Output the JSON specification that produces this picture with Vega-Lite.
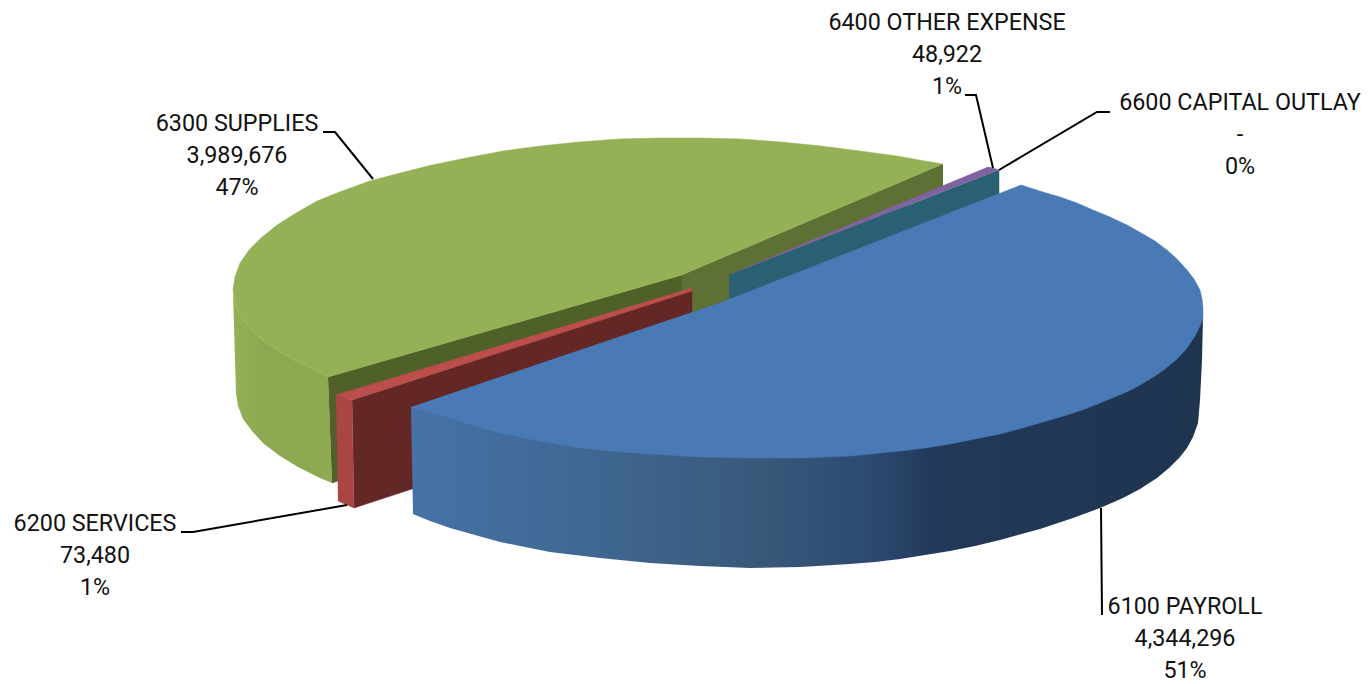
{"$schema":"https://vega.github.io/schema/vega-lite/v6.json","width":1368,"height":684,"autosize":"none","padding":0,"background":"white","view":{"stroke":null},
"datasets":{
"wallGreen":[{"i":1,"x":233,"y":293},{"i":2,"x":235,"y":302},{"i":3,"x":240,"y":315},{"i":4,"x":249,"y":327},{"i":5,"x":261,"y":339},{"i":6,"x":277,"y":350},{"i":7,"x":296,"y":361},{"i":8,"x":317,"y":371},{"i":9,"x":328,"y":377},{"i":10,"x":332,"y":483},{"i":11,"x":320,"y":478},{"i":12,"x":298,"y":467},{"i":13,"x":280,"y":456},{"i":14,"x":264,"y":444},{"i":15,"x":252,"y":431},{"i":16,"x":243,"y":419},{"i":17,"x":238,"y":406},{"i":18,"x":236,"y":393}],
"flat":[
{"part":"olive dark","i":1,"x":328,"y":377},{"part":"olive dark","i":2,"x":682,"y":275},{"part":"olive dark","i":3,"x":682,"y":300},{"part":"olive dark","i":4,"x":338,"y":400},{"part":"olive dark","i":5,"x":338,"y":481},{"part":"olive dark","i":6,"x":332,"y":483},
{"part":"olive","i":1,"x":943,"y":164},{"part":"olive","i":2,"x":682,"y":275},{"part":"olive","i":3,"x":682,"y":320},{"part":"olive","i":4,"x":729,"y":300},{"part":"olive","i":5,"x":943,"y":186},
{"part":"red wall","i":1,"x":352,"y":400},{"part":"red wall","i":2,"x":692,"y":290},{"part":"red wall","i":3,"x":692,"y":314},{"part":"red wall","i":4,"x":412,"y":489},{"part":"red wall","i":5,"x":354,"y":508},
{"part":"red front","i":1,"x":336,"y":395},{"part":"red front","i":2,"x":352,"y":400},{"part":"red front","i":3,"x":354,"y":508},{"part":"red front","i":4,"x":338,"y":501},
{"part":"red top","i":1,"x":336,"y":395},{"part":"red top","i":2,"x":692,"y":288},{"part":"red top","i":3,"x":692,"y":291},{"part":"red top","i":4,"x":352,"y":400},
{"part":"teal","i":1,"x":729,"y":275},{"part":"teal","i":2,"x":999,"y":170},{"part":"teal","i":3,"x":999,"y":194},{"part":"teal","i":4,"x":729,"y":302},
{"part":"purple","i":1,"x":733,"y":273},{"part":"purple","i":2,"x":988,"y":167},{"part":"purple","i":3,"x":993,"y":168},{"part":"purple","i":4,"x":999,"y":170}
],
"topGreen":[{"i":1,"x":943,"y":164},{"i":2,"x":925,"y":161},{"i":3,"x":897,"y":156},{"i":4,"x":860,"y":151},{"i":5,"x":821,"y":146},{"i":6,"x":781,"y":142},{"i":7,"x":741,"y":139},{"i":8,"x":700,"y":138},{"i":9,"x":659,"y":138},{"i":10,"x":619,"y":139},{"i":11,"x":579,"y":142},{"i":12,"x":540,"y":146},{"i":13,"x":503,"y":151},{"i":14,"x":466,"y":158},{"i":15,"x":432,"y":165},{"i":16,"x":400,"y":173},{"i":17,"x":370,"y":181},{"i":18,"x":342,"y":191},{"i":19,"x":317,"y":201},{"i":20,"x":296,"y":213},{"i":21,"x":277,"y":225},{"i":22,"x":261,"y":238},{"i":23,"x":249,"y":250},{"i":24,"x":240,"y":263},{"i":25,"x":235,"y":277},{"i":26,"x":233,"y":290},{"i":27,"x":235,"y":302},{"i":28,"x":240,"y":315},{"i":29,"x":249,"y":327},{"i":30,"x":261,"y":339},{"i":31,"x":277,"y":350},{"i":32,"x":296,"y":361},{"i":33,"x":317,"y":371},{"i":34,"x":328,"y":377},{"i":35,"x":682,"y":275}],
"wallBlue":[{"i":1,"x":1203,"y":318},{"i":2,"x":1202,"y":360},{"i":3,"x":1200,"y":400},{"i":4,"x":1198,"y":423},{"i":5,"x":1193,"y":437},{"i":6,"x":1187,"y":448},{"i":7,"x":1180,"y":457},{"i":8,"x":1169,"y":468},{"i":9,"x":1157,"y":478},{"i":10,"x":1140,"y":489},{"i":11,"x":1123,"y":498},{"i":12,"x":1100,"y":508},{"i":13,"x":1073,"y":518},{"i":14,"x":1040,"y":529},{"i":15,"x":1000,"y":540},{"i":16,"x":975,"y":546},{"i":17,"x":950,"y":551},{"i":18,"x":925,"y":555},{"i":19,"x":900,"y":559},{"i":20,"x":875,"y":562},{"i":21,"x":850,"y":564},{"i":22,"x":800,"y":567},{"i":23,"x":750,"y":568},{"i":24,"x":700,"y":566},{"i":25,"x":650,"y":563},{"i":26,"x":600,"y":558},{"i":27,"x":575,"y":555},{"i":28,"x":550,"y":552},{"i":29,"x":525,"y":547},{"i":30,"x":500,"y":542},{"i":31,"x":475,"y":535},{"i":32,"x":450,"y":528},{"i":33,"x":430,"y":521},{"i":34,"x":413,"y":514},{"i":35,"x":411,"y":407}],
"topBlue":[{"i":1,"x":725,"y":301},{"i":2,"x":1021,"y":185},{"i":3,"x":1043,"y":192},{"i":4,"x":1060,"y":197},{"i":5,"x":1077,"y":203},{"i":6,"x":1093,"y":210},{"i":7,"x":1110,"y":217},{"i":8,"x":1127,"y":225},{"i":9,"x":1143,"y":234},{"i":10,"x":1155,"y":241},{"i":11,"x":1167,"y":250},{"i":12,"x":1177,"y":259},{"i":13,"x":1187,"y":270},{"i":14,"x":1194,"y":279},{"i":15,"x":1200,"y":290},{"i":16,"x":1202,"y":299},{"i":17,"x":1203,"y":308},{"i":18,"x":1203,"y":318},{"i":19,"x":1200,"y":326},{"i":20,"x":1195,"y":336},{"i":21,"x":1187,"y":348},{"i":22,"x":1177,"y":359},{"i":23,"x":1165,"y":369},{"i":24,"x":1155,"y":376},{"i":25,"x":1145,"y":382},{"i":26,"x":1133,"y":389},{"i":27,"x":1117,"y":396},{"i":28,"x":1100,"y":403},{"i":29,"x":1085,"y":409},{"i":30,"x":1067,"y":415},{"i":31,"x":1050,"y":420},{"i":32,"x":1033,"y":425},{"i":33,"x":1015,"y":430},{"i":34,"x":1000,"y":434},{"i":35,"x":975,"y":439},{"i":36,"x":950,"y":444},{"i":37,"x":925,"y":448},{"i":38,"x":900,"y":451},{"i":39,"x":850,"y":456},{"i":40,"x":800,"y":458},{"i":41,"x":750,"y":458},{"i":42,"x":700,"y":457},{"i":43,"x":650,"y":454},{"i":44,"x":600,"y":450},{"i":45,"x":575,"y":447},{"i":46,"x":550,"y":443},{"i":47,"x":525,"y":438},{"i":48,"x":500,"y":433},{"i":49,"x":475,"y":426},{"i":50,"x":450,"y":418},{"i":51,"x":430,"y":412},{"i":52,"x":411,"y":407}],
"leaders":[
{"account":"6100","i":1,"x":1101,"y":508},{"account":"6100","i":2,"x":1102,"y":615},
{"account":"6200","i":1,"x":181,"y":532},{"account":"6200","i":2,"x":193,"y":532},{"account":"6200","i":3,"x":347,"y":505},
{"account":"6300","i":1,"x":323,"y":132},{"account":"6300","i":2,"x":335,"y":132},{"account":"6300","i":3,"x":373,"y":179},
{"account":"6400","i":1,"x":965,"y":95},{"account":"6400","i":2,"x":976,"y":95},{"account":"6400","i":3,"x":993,"y":168},
{"account":"6600","i":1,"x":1110,"y":112},{"account":"6600","i":2,"x":1097,"y":112},{"account":"6600","i":3,"x":999,"y":170}],
"labels":[
{"label":"6100 PAYROLL\n4,344,296\n51%","x":1185,"y":607},
{"label":"6200 SERVICES\n73,480\n1%","x":95,"y":524},
{"label":"6300 SUPPLIES\n3,989,676\n47%","x":237,"y":124},
{"label":"6400 OTHER EXPENSE\n48,922\n1%","x":947,"y":23},
{"label":"6600 CAPITAL OUTLAY\n-\n0%","x":1240,"y":103}]
},
"encoding":{"x":{"field":"x","type":"quantitative","scale":{"domain":[0,1368]},"axis":null},"y":{"field":"y","type":"quantitative","scale":{"domain":[684,0]},"axis":null}},
"layer":[
{"data":{"name":"wallGreen"},"mark":{"type":"line","filled":true,"strokeWidth":0,"color":{"gradient":"linear","x1":0,"x2":1,"y1":0,"y2":0,"stops":[{"offset":0,"color":"#95B157"},{"offset":0.3,"color":"#8CA850"},{"offset":1,"color":"#8EAA51"}]}},"encoding":{"order":{"field":"i","type":"quantitative"}}},
{"data":{"name":"flat"},"mark":{"type":"line","filled":true,"strokeWidth":0.5},"encoding":{"order":{"field":"i","type":"quantitative"},
"fill":{"field":"part","type":"nominal","legend":null,"scale":{"domain":["olive dark","olive","red wall","red front","red top","teal","purple"],"range":["#4F6029","#5E7033","#632826","#A94543","#BC4F4B","#2A6074","#7F63A1"]}},
"stroke":{"field":"part","type":"nominal","legend":null,"scale":{"domain":["olive dark","olive","red wall","red front","red top","teal","purple"],"range":["#4F6029","#5E7033","#632826","#A94543","#BC4F4B","#2A6074","#7F63A1"]}}}},
{"data":{"name":"topGreen"},"mark":{"type":"line","filled":true,"strokeWidth":0.5,"color":"#94B155","stroke":"#94B155"},"encoding":{"order":{"field":"i","type":"quantitative"}}},
{"data":{"name":"wallBlue"},"mark":{"type":"line","filled":true,"strokeWidth":0,"color":{"gradient":"linear","x1":0,"x2":1,"y1":0,"y2":0,"stops":[{"offset":0,"color":"#4672A8"},{"offset":0.25,"color":"#3F668F"},{"offset":0.45,"color":"#375879"},{"offset":0.58,"color":"#2D4A72"},{"offset":0.66,"color":"#22395A"},{"offset":1,"color":"#1E344F"}]}},"encoding":{"order":{"field":"i","type":"quantitative"}}},
{"data":{"name":"topBlue"},"mark":{"type":"line","filled":true,"strokeWidth":0.5,"color":"#4A7AB5","stroke":"#4A7AB5"},"encoding":{"order":{"field":"i","type":"quantitative"}}},
{"data":{"name":"leaders"},"mark":{"type":"line","color":"#000000","strokeWidth":2},"encoding":{"detail":{"field":"account"},"order":{"field":"i","type":"quantitative"}}},
{"data":{"name":"labels"},"mark":{"type":"text","font":"Roboto","fontSize":23.3,"lineHeight":32,"lineBreak":"\n","align":"center","baseline":"middle","color":"#111111"},"encoding":{"text":{"field":"label"}}}
]}
